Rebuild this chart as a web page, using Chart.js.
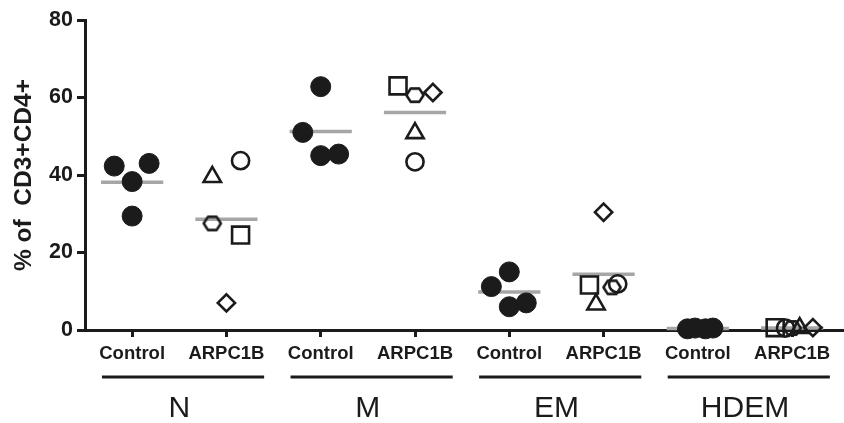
<!DOCTYPE html>
<html><head><meta charset="utf-8">
<script src="https://cdn.jsdelivr.net/npm/chart.js@4.4.1/dist/chart.umd.min.js"></script>
<style>html,body{margin:0;padding:0;background:#fff;} #wrap{width:844px;height:423px;}</style>
</head><body><div id="wrap"><canvas id="c" width="844" height="423"></canvas></div>
<script>
// ---- data ----
const categories = ['Control','ARPC1B','Control','ARPC1B','Control','ARPC1B','Control','ARPC1B'];
const groupNames = ['N','M','EM','HDEM'];
const yTickValues = [0, 20, 40, 60, 80];
const yTitle = '% of  CD3+CD4+';

// Control donors (filled circles): values in each group N, M, EM, HDEM
const controlN    = [42.3, 43.0, 38.3, 29.4];
const controlM    = [62.8, 51.0, 45.0, 45.4];
const controlEM   = [15.0, 11.2, 6.0, 7.0];
const controlHDEM = [0.3, 0.5, 0.3, 0.5];
// horizontal scatter of the control dots, in category units
const controlJitterN    = [-0.19, 0.18, 0, 0];
const controlJitterM    = [0, -0.19, 0, 0.19];
const controlJitterEM   = [0, -0.19, 0, 0.18];
const controlJitterHDEM = [-0.11, -0.03, 0.08, 0.16];

// ARPC1B patients (open symbols): values in groups N, M, EM, HDEM
const patTriangle = [39.5, 50.8, 6.6, 0.5];
const patCircle   = [43.7, 43.4, 11.9, 0.5];
const patHexagon  = [27.5, 60.6, 11.0, 0.5];
const patSquare   = [24.5, 63.0, 11.6, 0.6];
const patDiamond  = [7.0, 61.3, 30.4, 0.6];
// horizontal scatter of the patient symbols, in category units
const jitTriangle = [-0.15, 0, -0.08, 0.08];
const jitCircle   = [0.15, 0, 0.15, -0.07];
const jitHexagon  = [-0.15, 0, 0.09, 0.0];
const jitSquare   = [0.15, -0.18, -0.15, -0.18];
const jitDiamond  = [0, 0.19, 0, 0.22];

// group means (grey bars)
const meanControl = [38.1, 51.2, 9.8, 0.4];
const meanARPC1B  = [28.6, 56.1, 14.4, 0.5];

// ---- build ----
const INK = '#1b1b1b';
const GREY = '#a6a6a6';
const FONT = '"Liberation Sans", Arial, Helvetica, sans-serif';

const controlVals = [controlN, controlM, controlEM, controlHDEM];
const controlJit = [controlJitterN, controlJitterM, controlJitterEM, controlJitterHDEM];
const controlPts = [];
controlVals.forEach((arr, g) => arr.forEach((v, k) => controlPts.push({x: 2*g + controlJit[g][k], y: v})));

function patPts(vals, jit){ return vals.map((v, g) => ({x: 2*g + 1 + jit[g], y: v})); }

function hexCanvas(){
  const c = document.createElement('canvas'); c.width = 26; c.height = 26;
  const g = c.getContext('2d'); g.strokeStyle = INK; g.lineWidth = 2.6; g.lineJoin = 'round';
  const cx = 13, cy = 13, rx = 8.6, hy = 6.6;
  g.beginPath();
  g.moveTo(cx - rx, cy); g.lineTo(cx - rx/2, cy - hy); g.lineTo(cx + rx/2, cy - hy);
  g.lineTo(cx + rx, cy); g.lineTo(cx + rx/2, cy + hy); g.lineTo(cx - rx/2, cy + hy);
  g.closePath(); g.stroke();
  return c;
}

function openSet(label, vals, jit, style, r){
  return {type:'scatter', label, data: patPts(vals, jit), pointStyle: style, pointRadius: r,
    pointBorderWidth: 2.6, pointBorderColor: INK, pointBackgroundColor: 'rgba(0,0,0,0)',
    clip: false, order: 1};
}

const meanSets = [];
meanControl.forEach((m, g) => meanSets.push({type:'line', label:'meanC'+g,
  data:[{x:2*g-0.33, y:m},{x:2*g+0.33, y:m}], borderColor: GREY, borderWidth: 3.5,
  pointRadius: 0, clip:false, order: 5}));
meanARPC1B.forEach((m, g) => meanSets.push({type:'line', label:'meanA'+g,
  data:[{x:2*g+1-0.33, y:m},{x:2*g+1+0.33, y:m}], borderColor: GREY, borderWidth: 3.5,
  pointRadius: 0, clip:false, order: 5}));

const datasets = [
  {type:'scatter', label:'Control', data: controlPts, pointStyle:'circle', pointRadius: 10,
   pointBorderWidth: 1, pointBorderColor: INK, pointBackgroundColor: INK, clip:false, order: 1},
  openSet('P-triangle', patTriangle, jitTriangle, 'triangle', 10),
  openSet('P-circle', patCircle, jitCircle, 'circle', 8.6),
  openSet('P-hexagon', patHexagon, jitHexagon, hexCanvas(), 1),
  openSet('P-square', patSquare, jitSquare, 'rect', 12),
  openSet('P-diamond', patDiamond, jitDiamond, 'rectRot', 8.6),
  ...meanSets
];

const groupPlugin = {
  id: 'groups',
  afterDraw(chart){
    const x = chart.scales.x, ctx = chart.ctx, base = chart.chartArea.bottom;
    ctx.save();
    ctx.strokeStyle = INK; ctx.fillStyle = INK; ctx.lineWidth = 3;
    ctx.font = '30px ' + FONT; ctx.textAlign = 'center'; ctx.textBaseline = 'middle';
    groupNames.forEach((name, i) => {
      const a = 2*i, b = 2*i + 1;
      ctx.beginPath();
      ctx.moveTo(x.getPixelForValue(a - 0.32), base + 47);
      ctx.lineTo(x.getPixelForValue(b + 0.40), base + 47);
      ctx.stroke();
      ctx.fillText(name, (x.getPixelForValue(a) + x.getPixelForValue(b)) / 2, base + 79);
    });
    ctx.restore();
  }
};

new Chart(document.getElementById('c'), {
  type: 'scatter',
  data: {datasets},
  plugins: [groupPlugin],
  options: {
    responsive: false, animation: false, devicePixelRatio: 1,
    layout: {padding: {top: 20, right: 0, left: 0, bottom: 0}, autoPadding: false},
    plugins: {legend: {display: false}, tooltip: {enabled: false}},
    scales: {
      x: {
        type: 'linear', min: -0.5, max: 7.55,
        afterBuildTicks: s => { s.ticks = categories.map((_, i) => ({value: i})); },
        afterFit: s => { s.height = 93; s.paddingLeft = 0; s.paddingRight = 0; },
        border: {display: true, color: INK, width: 3},
        grid: {display: true, drawOnChartArea: false, drawTicks: true, tickLength: 7, tickWidth: 3, tickColor: INK},
        ticks: {autoSkip: false, maxRotation: 0, padding: 6, color: INK,
          font: {family: FONT, size: 18.5, weight: 'bold'},
          callback: (v) => categories[v] !== undefined ? categories[v] : ''}
      },
      y: {
        type: 'linear', min: 0, max: 80,
        afterBuildTicks: s => { s.ticks = yTickValues.map(v => ({value: v})); },
        afterFit: s => { s.width = 85; s.paddingTop = 0; s.paddingBottom = 0; },
        border: {display: true, color: INK, width: 3},
        grid: {display: true, drawOnChartArea: false, drawTicks: true, tickLength: 8, tickWidth: 3, tickColor: INK},
        ticks: {padding: 4, color: INK, font: {family: FONT, size: 21.5, weight: 'bold'}},
        title: {display: true, text: yTitle, color: INK, padding: {top: 10, bottom: 0},
          font: {family: FONT, size: 24.5, weight: 'bold'}}
      }
    }
  }
});
</script>
</body></html>
